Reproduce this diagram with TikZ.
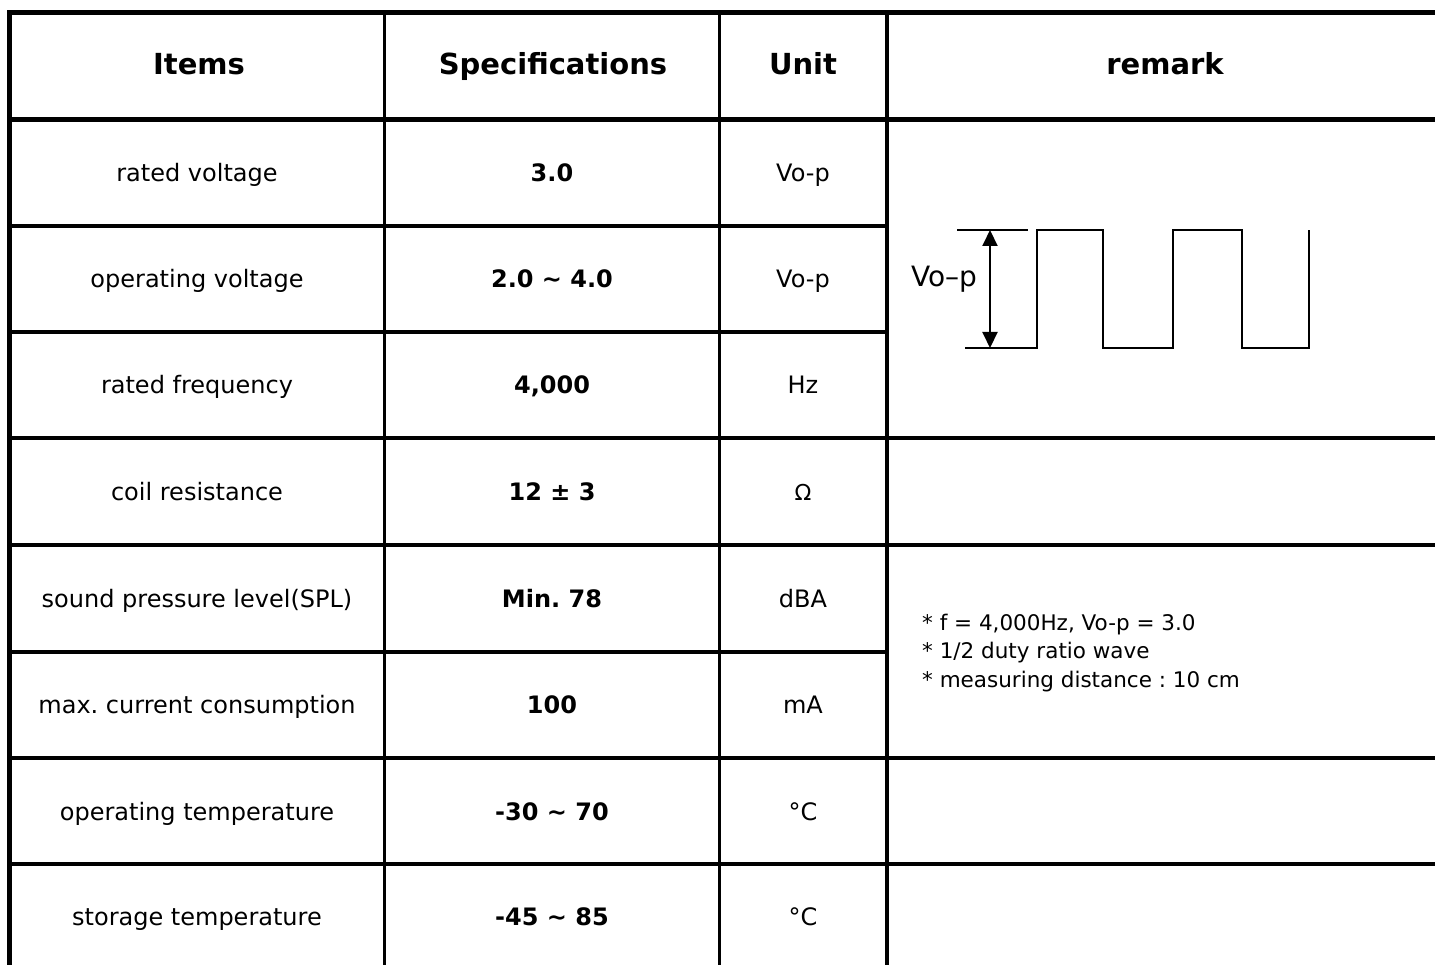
\documentclass[tikz,border=0pt]{standalone}
\usepackage{fontspec}
\setmainfont{DejaVu Sans}
\usetikzlibrary{arrows.meta}
\frenchspacing
\begin{document}
\begin{tikzpicture}[x=1pt,y=-1pt,
  frame/.style={line width=5.5pt,line join=miter},
  rule/.style={line width=3.2pt},
  wave/.style={line width=2pt},
  dim/.style={line width=2pt,{Triangle[width=15pt,length=16pt]}-{Triangle[width=15pt,length=16pt]}},
  txt/.style={anchor=base,inner sep=0pt},
  head/.style={txt,font=\fontsize{29}{33}\selectfont\bfseries},
  body/.style={txt,font=\fontsize{24}{28}\selectfont},
  val/.style={txt,font=\fontsize{24}{28}\selectfont\bfseries},
  unitsym/.style={txt,font=\fontsize{22}{26}\selectfont},
  note/.style={anchor=base west,inner sep=0pt,font=\fontsize{21.5}{28}\selectfont}]
\useasboundingbox (0,0) rectangle (1435,965);
% grid lines
\draw[rule] (384.5,12.5) -- (384.5,965);
\draw[rule] (719.5,12.5) -- (719.5,965);
\draw[rule] (887,12.5) -- (887,965);
\draw[rule] (9.5,226) -- (887,226);
\draw[rule] (9.5,332) -- (887,332);
\draw[rule] (9.5,438) -- (1435,438);
\draw[rule] (9.5,545) -- (1435,545);
\draw[rule] (9.5,652) -- (887,652);
\draw[rule] (9.5,758) -- (1435,758);
\draw[rule] (9.5,864) -- (1435,864);
% thick frame
\draw[frame] (9.5,965) -- (9.5,12.5) -- (1435,12.5);
\draw[frame] (9.5,119.5) -- (1435,119.5);
% header
\node[head] (hItems) at (199,75) {Items};
\node[head] (hSpec) at (553,75) {Specifications};
\node[head] (hUnit) at (803,75) {Unit};
\node[head] (hRemark) at (1165,75) {remark};
% column 1
\node[body] (i1) at (197,182) {rated voltage};
\node[body] (i2) at (197,288) {operating voltage};
\node[body] (i3) at (197,394) {rated frequency};
\node[body] (i4) at (197,500) {coil resistance};
\node[body] (i5) at (197,607) {sound pressure level(SPL)};
\node[body] (i6) at (197,713) {max. current consumption};
\node[body] (i7) at (197,820) {operating temperature};
\node[body] (i8) at (197,925) {storage temperature};
% column 2
\node[val] (s1) at (552,182) {3.0};
\node[val] (s2) at (552,288) {2.0 \textasciitilde{} 4.0};
\node[val] (s3) at (552,394) {4,000};
\node[val] (s4) at (552,500) {12 ± 3};
\node[val] (s5) at (552,607) {Min. 78};
\node[val] (s6) at (552,713) {100};
\node[val] (s7) at (552,820) {-30 \textasciitilde{} 70};
\node[val] (s8) at (552,925) {-45 \textasciitilde{} 85};
% column 3
\node[body] (u1) at (803,182) {Vo-p};
\node[body] (u2) at (803,288) {Vo-p};
\node[body] (u3) at (803,394) {Hz};
\node[unitsym] (u4) at (803,500) {Ω};
\node[body] (u5) at (803,607) {dBA};
\node[body] (u6) at (803,713) {mA};
\node[body] (u7) at (803,820) {°C};
\node[body] (u8) at (803,925) {°C};
% waveform
\coordinate (tl0) at (957,230);
\coordinate (tl1) at (1028,230);
\coordinate (bl0) at (965,348);
\coordinate (w1) at (1037,348);
\coordinate (w2) at (1037,230);
\coordinate (w3) at (1103,230);
\coordinate (w4) at (1103,348);
\coordinate (w5) at (1173,348);
\coordinate (w6) at (1173,230);
\coordinate (w7) at (1242,230);
\coordinate (w8) at (1242,348);
\coordinate (w9) at (1309,348);
\coordinate (w10) at (1309,230);
\coordinate (at) at (990,230);
\coordinate (ab) at (990,348);
\draw[wave] (tl0) -- (tl1);
\draw[wave] (bl0) -- (w1) -- (w2) -- (w3) -- (w4) -- (w5) -- (w6) -- (w7) -- (w8) -- (w9) -- (w10);
\draw[dim] (at) -- (ab);
\node[txt,font=\fontsize{28}{32}\selectfont] (vop) at (944,287) {Vo–p};
% remark note
\node[note] (n1) at (922,630) {* f = 4,000Hz, Vo-p = 3.0};
\node[note] (n2) at (922,658) {* 1/2 duty ratio wave};
\node[note] (n3) at (922,687) {* measuring distance : 10 cm};
\end{tikzpicture}
\end{document}
